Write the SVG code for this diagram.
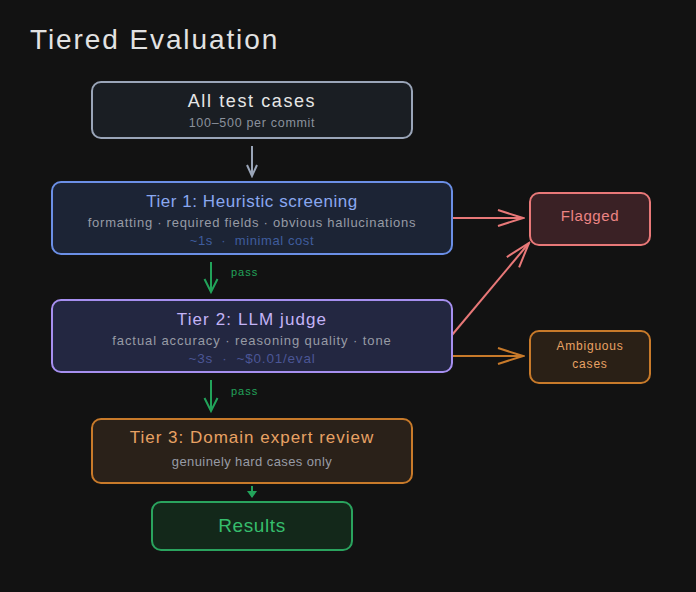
<svg xmlns="http://www.w3.org/2000/svg" width="696" height="592" viewBox="0 0 696 592">
<defs>
<style>
text{font-family:"Liberation Sans","DejaVu Sans",sans-serif;text-anchor:middle}
.t{font-size:17px}
.s{font-size:13px;fill:#979ba5;letter-spacing:0.8px}
.box{stroke-width:2}
</style>
<marker id="ag" markerUnits="userSpaceOnUse" markerWidth="14" markerHeight="14" refX="12" refY="7" orient="auto" viewBox="0 0 14 14"><path d="M1,2 L12,7 L1,12" fill="none" stroke="#9aa5b8" stroke-width="2"/></marker>
<marker id="agr" markerUnits="userSpaceOnUse" markerWidth="16" markerHeight="16" refX="14" refY="8" orient="auto" viewBox="0 0 16 16"><path d="M1,1.5 L14,8 L1,14.5" fill="none" stroke="#22a35a" stroke-width="2"/></marker>
<marker id="agr2" markerUnits="userSpaceOnUse" markerWidth="8" markerHeight="10" refX="6" refY="5" orient="auto" viewBox="0 0 8 10"><path d="M0,0 L7,5 L0,10 Z" fill="#22a35a"/></marker>
<marker id="ar" markerUnits="userSpaceOnUse" markerWidth="28" markerHeight="20" refX="26" refY="10" orient="auto" viewBox="0 0 28 20"><path d="M1,2 L26,10 L1,18" fill="none" stroke="#e87878" stroke-width="2"/></marker>
<marker id="ao" markerUnits="userSpaceOnUse" markerWidth="28" markerHeight="20" refX="26" refY="10" orient="auto" viewBox="0 0 28 20"><path d="M1,2 L26,10 L1,18" fill="none" stroke="#c87a2a" stroke-width="2"/></marker>
</defs>
<rect width="696" height="592" fill="#121212"/>
<text x="30" y="49" style="text-anchor:start;font-size:28px;letter-spacing:1.9px" fill="#e2e2e2">Tiered Evaluation</text>

<g id="connectors" fill="none" stroke-width="2">
<line x1="252" y1="146" x2="252" y2="176" stroke="#9aa5b8" marker-end="url(#ag)"/>
<line x1="211" y1="262" x2="211" y2="292" stroke="#22a35a" marker-end="url(#agr)"/>
<line x1="211" y1="380" x2="211" y2="411" stroke="#22a35a" marker-end="url(#agr)"/>
<line x1="252" y1="486" x2="252" y2="497" stroke="#22a35a" marker-end="url(#agr2)"/>
<line x1="452" y1="218" x2="523" y2="218" stroke="#e87878" marker-end="url(#ar)"/>
<line x1="452" y1="335" x2="529" y2="243" stroke="#e87878" marker-end="url(#ar)"/>
<line x1="452" y1="356" x2="523" y2="356" stroke="#c87a2a" marker-end="url(#ao)"/>
<text x="231" y="276" style="text-anchor:start;font-size:11px;letter-spacing:1px" fill="#22a35a">pass</text>
<text x="231" y="395" style="text-anchor:start;font-size:11px;letter-spacing:1px" fill="#22a35a">pass</text>
</g>

<g id="all-tests">
<rect class="box" x="92" y="82" width="320" height="56" rx="9" fill="#1a1e23" stroke="#9aa5b8"/>
<text x="252" y="107" style="font-size:18px;letter-spacing:1.6px" fill="#e6e6e6">All test cases</text>
<text class="s" x="252" y="127" style="font-size:12.5px;fill:#8a919c;letter-spacing:0.7px">100–500 per commit</text>
</g>

<g id="tier1">
<rect class="box" x="52" y="182" width="400" height="72" rx="9" fill="#1c2435" stroke="#6b8fe6"/>
<text class="t" x="252" y="207" style="letter-spacing:0.55px" fill="#8aa8f0">Tier 1: Heuristic screening</text>
<text class="s" x="252" y="227" style="letter-spacing:0.73px">formatting · required fields · obvious hallucinations</text>
<text class="s" x="252" y="245" style="fill:#3f5d9e;letter-spacing:0.6px" xml:space="preserve">~1s  ·  minimal cost</text>
</g>

<g id="tier2">
<rect class="box" x="52" y="300" width="400" height="72" rx="9" fill="#232741" stroke="#a68ff0"/>
<text class="t" x="252" y="325" style="letter-spacing:1.1px" fill="#c4b3f7">Tier 2: LLM judge</text>
<text class="s" x="252" y="345" style="letter-spacing:0.9px">factual accuracy · reasoning quality · tone</text>
<text class="s" x="252" y="363" style="font-size:13.5px;fill:#4b5696;letter-spacing:0.8px" xml:space="preserve">~3s  ·  ~$0.01/eval</text>
</g>

<g id="tier3">
<rect class="box" x="92" y="419" width="320" height="64" rx="9" fill="#2a2119" stroke="#c87a2a"/>
<text class="t" x="252" y="443" style="letter-spacing:1px" fill="#e8a264">Tier 3: Domain expert review</text>
<text class="s" x="252" y="466" style="letter-spacing:0.4px">genuinely hard cases only</text>
</g>

<g id="results">
<rect class="box" x="152" y="502" width="200" height="48" rx="9" fill="#13281a" stroke="#2aa35e"/>
<text x="252" y="532" style="font-size:19px;letter-spacing:0.6px" fill="#36bd6c">Results</text>
</g>

<g id="flagged">
<rect class="box" x="530" y="193" width="120" height="52" rx="9" fill="#3a2125" stroke="#e87878"/>
<text x="590" y="221" style="font-size:15px;letter-spacing:0.6px" fill="#ec8484">Flagged</text>
</g>

<g id="ambiguous">
<rect class="box" x="530" y="331" width="120" height="52" rx="9" fill="#2a2016" stroke="#c87a2a"/>
<text x="590" y="350" style="font-size:12px;letter-spacing:0.8px" fill="#e8a264">Ambiguous</text>
<text x="590" y="368" style="font-size:12px;letter-spacing:0.8px" fill="#e8a264">cases</text>
</g>
</svg>
